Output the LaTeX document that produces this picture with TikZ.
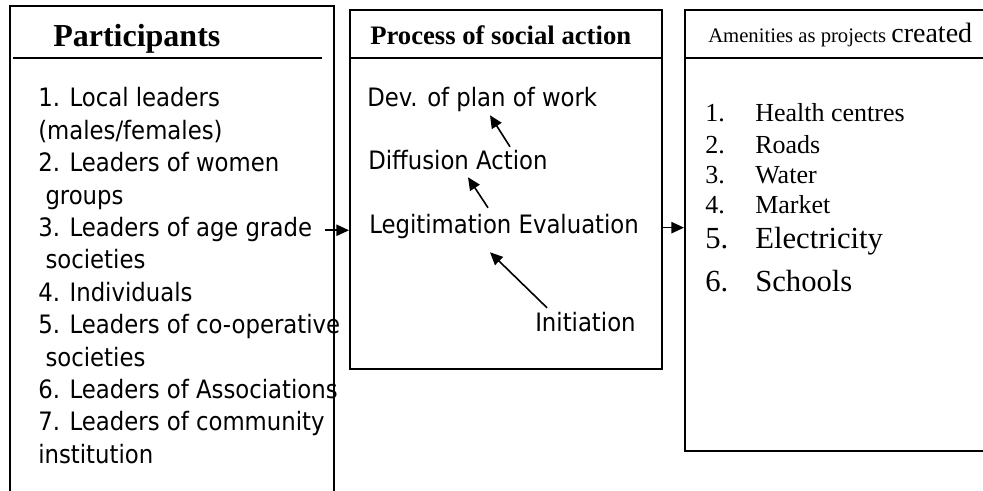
\documentclass[tikz,border=0pt]{standalone}
\usepackage{fontspec}
\setmainfont{Liberation Serif}
\newfontfamily\tahoma{DejaVu Sans Condensed}
\usetikzlibrary{arrows.meta,fit}

\begin{document}
\begin{tikzpicture}[x=0.75pt,y=-0.75pt]
\tikzstyle{every node}=[inner sep=0pt]
\tikzstyle{box}=[draw,line width=1.5pt]
\tikzstyle{rule}=[line width=1.5pt]
\tikzstyle{txt}=[font=\tahoma\fontsize{19}{23}\selectfont,anchor=base west,text height=14pt,text depth=4.5pt]
\tikzstyle{ser}=[anchor=base west]
\tikzstyle{arr}=[line width=1.2pt,-{Triangle[length=9.5pt,width=8.5pt]}]

\useasboundingbox (0,0) rectangle (983,491);
\clip (0,0) rectangle (983,491);

% the three boxes
\node[box,fit={(10,6) (334,520)}] (part) {};
\node[box,fit={(350,10) (662,369)}] (proc) {};
\node[box,fit={(685,10) (1010,451)}] (amen) {};

\draw[rule] (13,58) -- (322,58);
\draw[rule] (proc.west |- 0,58) -- (proc.east |- 0,58);
\draw[rule] (amen.west |- 0,58) -- (amen.east |- 0,58);

% headings
\node[ser,font=\bfseries\fontsize{24}{28}\selectfont] (parthead) at (53,47) {Participants};
\node[ser,font=\bfseries\fontsize{20}{24}\selectfont] (prochead) at (370,45) {Process of social action};
\node[ser,font=\fontsize{15.5}{18}\selectfont] (amenhead) at (708,43) {Amenities as projects {\fontsize{21}{24}\selectfont created}};

% participants
\foreach \txt [count=\i from 0] in {1. Local leaders,(males/females),2. Leaders of women,\ groups,
  3. Leaders of age grade,\ societies,4. Individuals,5. Leaders of co-operative,\ societies,
  6. Leaders of Associations,7. Leaders of community,institution}
  \node[txt] (p\i) at (38,107+32.4*\i) {\txt};

% process
\node[txt] (dev) at (367,107) {Dev. of plan of work};
\node[txt] (dif) at (368,170) {Diffusion Action};
\node[txt] (leg) at (369,234) {Legitimation Evaluation};
\node[txt] (ini) at (535,332) {Initiation};

\draw[arr] ([shift={(142,-4.3)}]dif.north west) -- ([shift={(123,2)}]dev.south west);
\draw[arr] ([shift={(119,-7.3)}]leg.north west) -- ([shift={(100,1)}]dif.south west);
\draw[arr] ([shift={(12,-5.3)}]ini.north west) -- ([shift={(121,12)}]leg.south west);

% amenities
\foreach \t/\y/\s [count=\k] in {Health centres/122/19.5,Roads/154/19.5,Water/184/19.5,
  Market/214/19.5,Electricity/249/23,Schools/292/23}
{
  \node[ser,font=\fontsize{\s}{\s}\selectfont] (num\k) at (705,\y) {\k.};
  \node[ser,font=\fontsize{\s}{\s}\selectfont] (item\k) at (755,\y) {\t};
}

% flow between the boxes
\draw[arr] ([shift={(13,0)}]p4.east) -- (proc.west |- p4.east);
\draw[arr] (proc.east |- leg.east) -- (amen.west |- leg.east);
\end{tikzpicture}
\end{document}
